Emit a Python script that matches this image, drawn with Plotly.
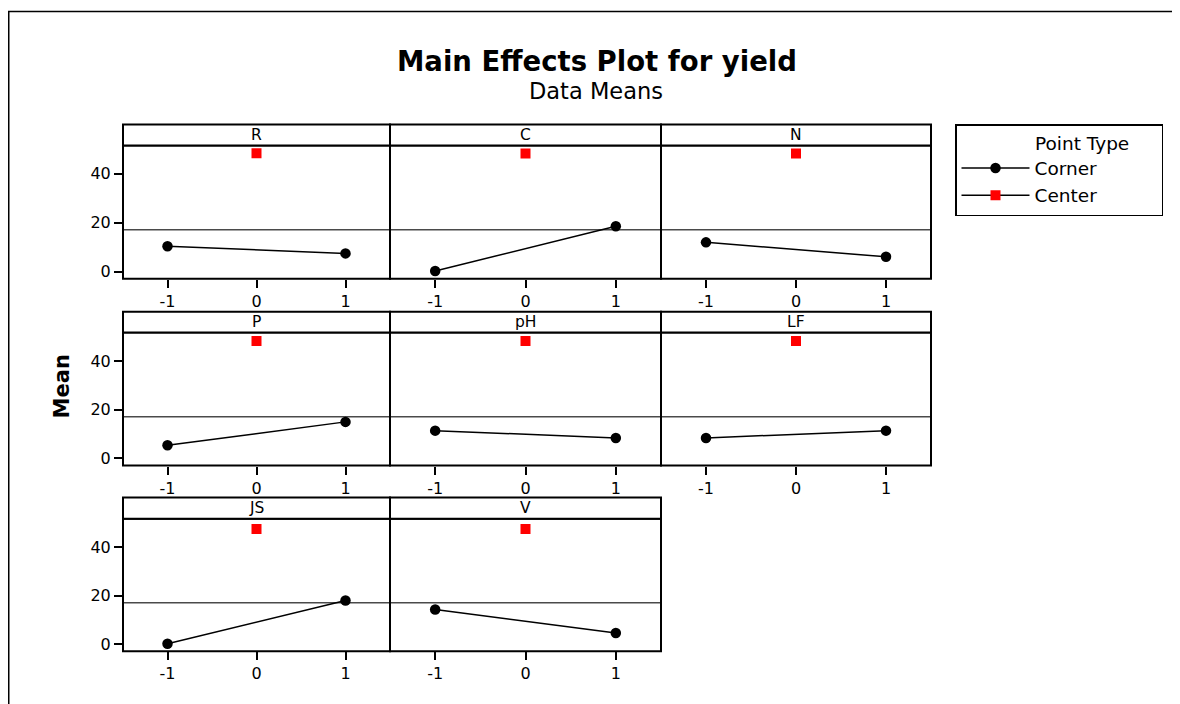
import plotly.graph_objects as go

# ---- data ----
factors = ["R", "C", "N", "P", "pH", "LF", "JS", "V"]
levels = [-1, 1]
corner_low = [10.4, 0.3, 12.0, 5.4, 11.4, 8.4, 0.2, 14.3]
corner_high = [7.5, 18.6, 6.1, 15.0, 8.4, 11.4, 18.0, 4.6]
center_level = [0]
center_mean = [48.4, 48.3, 48.3, 48.2, 48.2, 48.2, 47.4, 47.4]
grand_mean = 17.1
x_ticks = [-1, 0, 1]
y_ticks = [0, 20, 40]

W, H = 1180, 704
OX, OY = 8, 8   # page body margin offset
FONT = "DejaVu Sans"

# pixel layout of the panel grid (reference screen coordinates)
col_edges = [(123, 390), (390, 661), (661, 931)]
row_edges = [  # header top, plot top (= header bottom), plot bottom
    (125, 146, 280),
    (313, 334, 467.5),
    (499.5, 521, 654),
]

def px(x):
    return (x - OX) / W

def py(y):
    return 1 - (y - OY) / H

fig = go.Figure()
layout = dict(
    width=W, height=H,
    margin=dict(l=0, r=0, t=0, b=0),
    paper_bgcolor="white", plot_bgcolor="white",
    font=dict(family=FONT, color="black"),
    shapes=[], annotations=[],
)

for k, name in enumerate(factors):
    r, c = divmod(k, 3)
    x0p, x1p = col_edges[c]
    htop, ptop, pbot = row_edges[r]
    sfx = "" if k == 0 else str(k + 1)
    xa, ya = "x" + sfx, "y" + sfx

    fig.add_trace(go.Scatter(
        x=levels, y=[corner_low[k], corner_high[k]],
        xaxis=xa, yaxis=ya, mode="lines+markers",
        line=dict(color="black", width=1.5),
        marker=dict(symbol="circle", size=10.5, color="black"),
        name="Corner", legendgroup="corner", showlegend=(k == 0),
    ))
    fig.add_trace(go.Scatter(
        x=center_level, y=[center_mean[k]],
        xaxis=xa, yaxis=ya, mode="lines+markers",
        line=dict(color="black", width=1.5),
        marker=dict(symbol="square", size=10, color="red"),
        name="Center", legendgroup="center", showlegend=(k == 0),
    ))

    layout["xaxis" + sfx] = dict(
        domain=[px(x0p), px(x1p)], anchor=ya, range=[-1.5, 1.5],
        tickvals=x_ticks, ticktext=[str(v) for v in x_ticks],
        ticks="outside", ticklen=8, tickwidth=1.5, tickcolor="black",
        showline=False, showgrid=False, zeroline=False,
        tickfont=dict(size=16, family=FONT, color="black"),
        fixedrange=True,
    )
    layout["yaxis" + sfx] = dict(
        domain=[py(pbot), py(ptop)], anchor=xa, range=[-2.9, 51.6],
        tickvals=y_ticks, ticktext=[str(v) for v in y_ticks],
        ticks="outside" if c == 0 else "", ticklen=8, tickwidth=1.5,
        tickcolor="black", showticklabels=(c == 0),
        showline=False, showgrid=False, zeroline=False,
        tickfont=dict(size=16, family=FONT, color="black"),
        fixedrange=True,
    )

    # grand mean reference line
    layout["shapes"].append(dict(
        type="line", xref=xa + " domain", yref=ya, x0=0, x1=1,
        y0=grand_mean, y1=grand_mean, layer="below",
        line=dict(color="#4a4a4a", width=1.5),
    ))
    # panel border
    layout["shapes"].append(dict(
        type="rect", xref="paper", yref="paper",
        x0=px(x0p), x1=px(x1p), y0=py(pbot), y1=py(ptop),
        line=dict(color="black", width=2),
    ))
    # panel header strip
    layout["shapes"].append(dict(
        type="rect", xref="paper", yref="paper",
        x0=px(x0p), x1=px(x1p), y0=py(ptop), y1=py(htop),
        line=dict(color="black", width=2), fillcolor="white",
    ))
    layout["annotations"].append(dict(
        text=name, xref="paper", yref="paper",
        x=px((x0p + x1p) / 2), y=py((htop + ptop) / 2),
        xanchor="center", yanchor="middle", showarrow=False,
        font=dict(size=15.5, family=FONT, color="black"),
    ))

# outer frame (top and left edges visible in the reference)
layout["shapes"].append(dict(
    type="rect", xref="paper", yref="paper",
    x0=px(8.75), x1=1.02, y0=-0.02, y1=py(11.5),
    line=dict(color="black", width=1.5),
))

# titles
layout["annotations"].append(dict(
    text="<b>Main Effects Plot for yield</b>", xref="paper", yref="paper",
    x=px(597), y=py(61), xanchor="center", yanchor="middle", showarrow=False,
    font=dict(size=27.5, family=FONT, color="black"),
))
layout["annotations"].append(dict(
    text="Data Means", xref="paper", yref="paper",
    x=px(596), y=py(91), xanchor="center", yanchor="middle", showarrow=False,
    font=dict(size=22.5, family=FONT, color="black"),
))
layout["annotations"].append(dict(
    text="<b>Mean</b>", xref="paper", yref="paper",
    x=px(62), y=py(388), xanchor="center", yanchor="middle", showarrow=False,
    textangle=-90, font=dict(size=21, family=FONT, color="black"),
))

layout["legend"] = dict(
    x=px(955), y=py(124.5), xanchor="left", yanchor="top",
    bordercolor="black", borderwidth=1.5, bgcolor="white",
    font=dict(size=18.5, family=FONT, color="black"),
    title=dict(text="\u00a0" * 13 + "Point Type" + "\u00a0" * 5,
               font=dict(size=18.5, family=FONT, color="black")),
    itemwidth=68, tracegroupgap=0,
)

fig.update_layout(**layout)
fig.write_html("out.html")
